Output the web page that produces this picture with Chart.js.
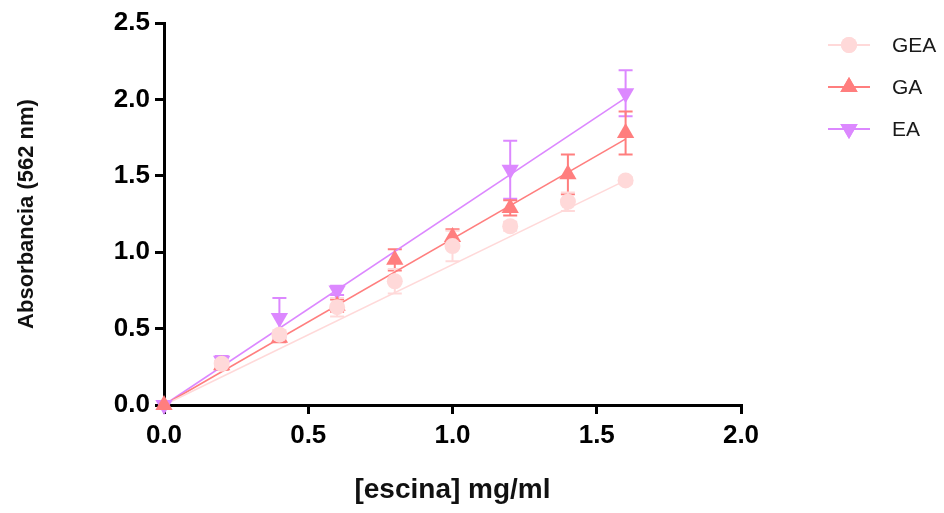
<!DOCTYPE html>
<html>
<head>
<meta charset="utf-8">
<script src="https://cdn.jsdelivr.net/npm/chart.js@4"></script>
<style>
  html, body { margin: 0; padding: 0; background: #fff; }
  #wrap { width: 944px; height: 513px; }
</style>
</head>
<body>
<div id="wrap"><canvas id="myChart" width="944" height="513"></canvas></div>
<script>
// concentrations (mg/ml)
var conc = [0, 0.2, 0.4, 0.6, 0.8, 1.0, 1.2, 1.4, 1.6];

// absorbance means and SD
var gea = [null, 0.27, 0.46, 0.64, 0.81, 1.04, 1.17, 1.33, 1.47];
var geaSd = [0, 0.02, 0.03, 0.06, 0.08, 0.10, 0.03, 0.06, 0.02];
var ga = [0, 0.26, 0.44, 0.65, 0.95, 1.10, 1.29, 1.51, 1.78];
var gaSd = [0, 0.03, 0.03, 0.04, 0.07, 0.05, 0.05, 0.13, 0.14];
var ea = [0, 0.29, 0.57, 0.75, null, null, 1.54, null, 2.04];
var eaSd = [0, 0.03, 0.13, 0.03, 0, 0, 0.19, 0, 0.15];

// linear fit lines (start / end)
var fitX = [0, 1.6];
var geaFit = [0, 1.47];
var gaFit = [0, 1.74];
var eaFit = [0, 2.01];

var xTicks = [0, 0.5, 1.0, 1.5, 2.0];
var yTicks = [0, 0.5, 1.0, 1.5, 2.0, 2.5];

var colGEA = '#FFD9D9', colGA = '#FF7E7E', colEA = '#DC88FF';

function pts(xs, ys) {
    return xs.map(function (x, i) { return { x: x, y: ys[i] }; });
}

var errorBars = {
    id: 'errorBars',
    beforeDatasetsDraw: function (chart) {
        var ctx = chart.ctx, xs = chart.scales.x, ys = chart.scales.y;
        var sets = [[ea, eaSd, colEA], [ga, gaSd, colGA], [gea, geaSd, colGEA]];
        ctx.save();
        ctx.lineWidth = 2;
        sets.forEach(function (s) {
            ctx.strokeStyle = s[2];
            conc.forEach(function (c, i) {
                if (s[0][i] == null || !s[1][i]) return;
                var px = xs.getPixelForValue(c);
                var top = ys.getPixelForValue(s[0][i] + s[1][i]);
                var bot = ys.getPixelForValue(s[0][i] - s[1][i]);
                ctx.beginPath();
                ctx.moveTo(px, top); ctx.lineTo(px, bot);
                ctx.moveTo(px - 7, top); ctx.lineTo(px + 7, top);
                ctx.moveTo(px - 7, bot); ctx.lineTo(px + 7, bot);
                ctx.stroke();
            });
        });
        ctx.restore();
    }
};

var sideLegend = {
    id: 'sideLegend',
    afterDraw: function (chart) {
        var ctx = chart.ctx;
        var items = [['GEA', colGEA, 'circle', 8, 0], ['GA', colGA, 'triangle', 10, 0], ['EA', colEA, 'triangle', 10, 180]];
        ctx.save();
        items.forEach(function (it, i) {
            var y = 45 + i * 42;
            ctx.strokeStyle = it[1];
            ctx.lineWidth = 2;
            ctx.beginPath(); ctx.moveTo(828, y); ctx.lineTo(870, y); ctx.stroke();
            ctx.fillStyle = it[1];
            Chart.helpers.drawPoint(ctx, { pointStyle: it[2], radius: it[3], rotation: it[4], borderWidth: 0 }, 849, y);
            ctx.fill();
            ctx.fillStyle = '#1a1a1a';
            ctx.font = '21px "Liberation Sans", Arial, sans-serif';
            ctx.textBaseline = 'middle';
            ctx.fillText(it[0], 892, y + 1);
        });
        ctx.restore();
    }
};

function markerSet(label, data, color, style, radius, rot, order) {
    return {
        label: label, data: pts(conc, data), showLine: false, order: order,
        pointStyle: style, pointRadius: radius, pointHoverRadius: radius, pointRotation: rot,
        backgroundColor: color, borderColor: color, borderWidth: 0, clip: false
    };
}
function fitSet(data, color) {
    return {
        label: '', data: pts(fitX, data), showLine: true, order: 10,
        borderColor: color, borderWidth: 1.6, pointRadius: 0, clip: false
    };
}

var ctx = document.getElementById('myChart').getContext('2d');
new Chart(ctx, {
    type: 'scatter',
    data: {
        datasets: [
            markerSet('GEA', gea, colGEA, 'circle', 8, 0, 0),
            markerSet('GA', ga, colGA, 'triangle', 10, 0, 1),
            markerSet('EA', ea, colEA, 'triangle', 10, 180, 2),
            fitSet(geaFit, colGEA),
            fitSet(gaFit, colGA),
            fitSet(eaFit, colEA)
        ]
    },
    options: {
        responsive: false,
        animation: false,
        layout: { padding: { top: 23, right: 203, left: 0, bottom: 0 } },
        plugins: { legend: { display: false }, tooltip: { enabled: false } },
        scales: {
            x: {
                type: 'linear', min: 0, max: 2.0,
                afterFit: function (s) { s.height = 108; },
                afterBuildTicks: function (s) { s.ticks = xTicks.map(function (v) { return { value: v }; }); },
                border: { display: true, color: '#000', width: 3 },
                grid: { drawOnChartArea: false, drawTicks: true, tickLength: 9, color: '#000', lineWidth: 3 },
                ticks: {
                    color: '#000', padding: 6,
                    font: { family: '"Liberation Sans", Arial, sans-serif', size: 26, weight: 'bold' },
                    callback: function (v) { return v.toFixed(1); }
                },
                title: {
                    display: true, text: '[escina] mg/ml', color: '#111',
                    font: { family: '"Liberation Sans", Arial, sans-serif', size: 28, weight: 'bold' },
                    padding: { top: 0, bottom: 6 }
                }
            },
            y: {
                type: 'linear', min: 0, max: 2.5,
                afterFit: function (s) { s.width = 164; },
                afterBuildTicks: function (s) { s.ticks = yTicks.map(function (v) { return { value: v }; }); },
                border: { display: true, color: '#000', width: 3 },
                grid: { drawOnChartArea: false, drawTicks: true, tickLength: 9, color: '#000', lineWidth: 3 },
                ticks: {
                    color: '#000', padding: 5,
                    font: { family: '"Liberation Sans", Arial, sans-serif', size: 26, weight: 'bold' },
                    callback: function (v) { return v.toFixed(1); }
                },
                title: {
                    display: true, text: 'Absorbancia (562 nm)', color: '#111',
                    font: { family: '"Liberation Sans", Arial, sans-serif', size: 22, weight: 'bold' },
                    padding: { top: 14, bottom: 0 }
                }
            }
        }
    },
    plugins: [errorBars, sideLegend]
});
</script>
</body>
</html>
